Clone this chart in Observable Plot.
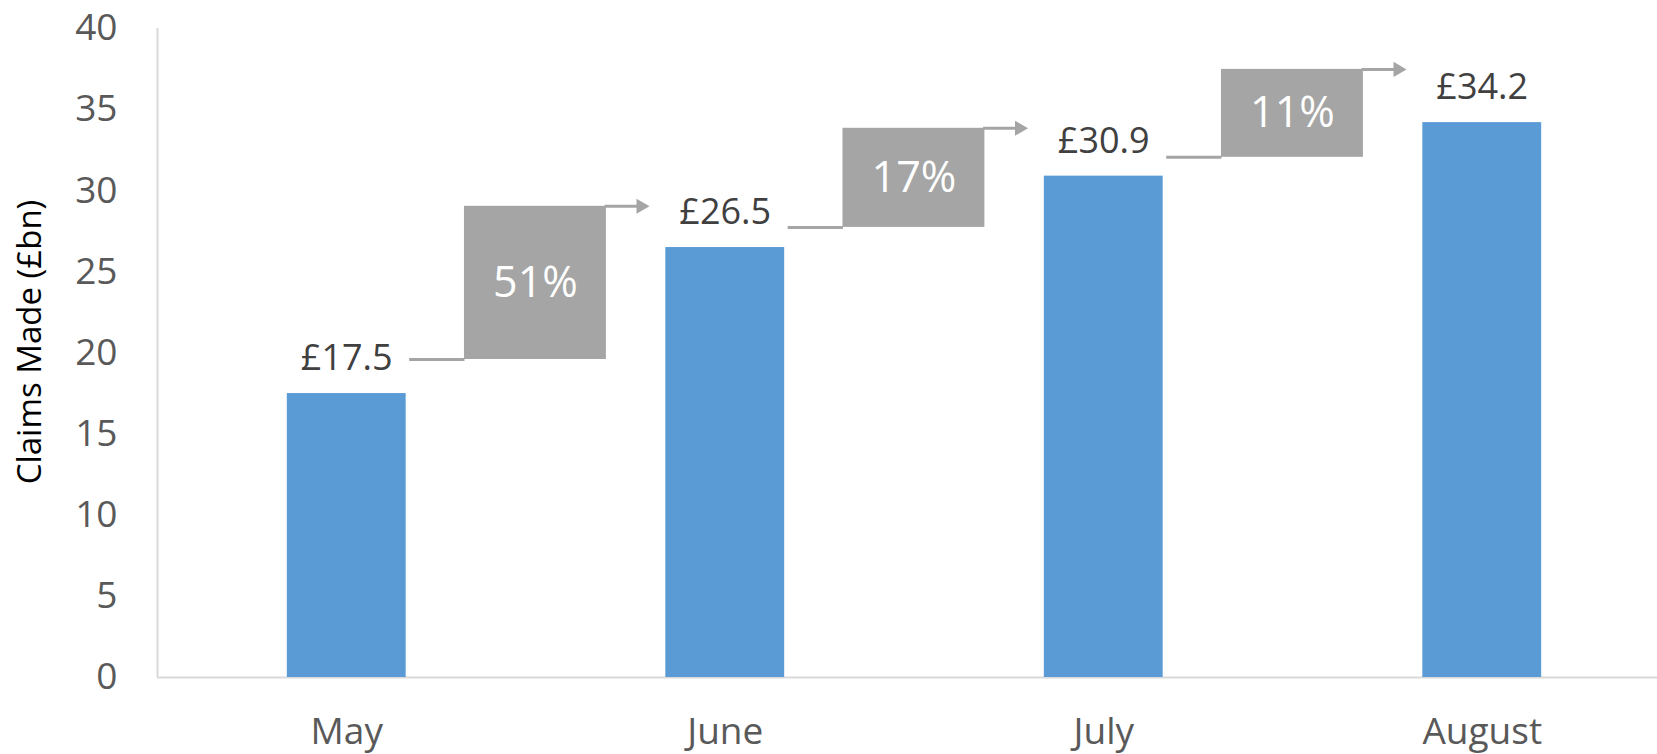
<!DOCTYPE html>
<html>
<head>
<meta charset="utf-8">
<script src="https://cdn.jsdelivr.net/npm/d3@7"></script>
<script src="https://cdn.jsdelivr.net/npm/@observablehq/plot@0.6"></script>
<style>
  html, body { margin: 0; padding: 0; background: #fff; }
  #chart { width: 1657px; height: 754px; overflow: hidden; }
</style>
</head>
<body>
<div id="chart"></div>
<script>
// ---- data ----
const months = ["May", "June", "July", "August"];
const claims = [17.5, 26.5, 30.9, 34.2];
const valueLabels = ["£17.5", "£26.5", "£30.9", "£34.2"];
const growthLabels = ["51%", "17%", "11%"];
const stepLow = [19.6, 27.74, 32.06];   // level of connector leaving each bar label (£bn)
const stepHigh = [29.04, 33.85, 37.48]; // level of arrow reaching next bar label (£bn)
const yTicks = [0, 5, 10, 15, 20, 25, 30, 35, 40];
const yTitle = "Claims Made (£bn)";

// ---- tables ----
const bars = months.map((m, i) => ({i, month: m, value: claims[i], label: valueLabels[i]}));
const steps = growthLabels.map((g, i) => ({i, label: g, low: stepLow[i], high: stepHigh[i]}));

const BAR = 0.157, LINE0 = 0.165, BOX0 = 0.311, BOX1 = 0.686, TIP = 0.80;
const grey = "#a5a5a5";

const chart = Plot.plot({
  width: 1657,
  height: 754,
  marginLeft: 157,
  marginRight: 0,
  marginTop: 28,
  marginBottom: 77,
  style: {fontFamily: "'Open Sans', sans-serif", background: "#fff", overflow: "visible"},
  x: {type: "linear", domain: [-0.5, 3.5], range: [157, 1671]},
  y: {domain: [0, 40], range: [677, 28]},
  marks: [
    Plot.ruleY([0], {stroke: "#d9d9d9", strokeWidth: 2}),
    Plot.ruleX([-0.5], {y1: 0, y2: 40, stroke: "#d9d9d9", strokeWidth: 2}),
    Plot.axisY({ticks: yTicks, tickSize: 0, tickPadding: 40, fontSize: 37, fill: "#595959", label: null}),
    Plot.axisX({ticks: [0, 1, 2, 3], tickFormat: i => months[i], tickSize: 0, tickPadding: 40, fontSize: 37, fill: "#595959", label: null}),
    Plot.text([yTitle], {frameAnchor: "left", textAnchor: "middle", dx: -127, dy: -11, rotate: -90, fontSize: 33, fill: "#000"}),
    Plot.rect(bars, {x1: d => d.i - BAR, x2: d => d.i + BAR, y1: 0, y2: "value", fill: "#5b9bd5"}),
    Plot.text(bars, {x: "i", y: "value", text: "label", dy: -35, fontSize: 36, fill: "#404040"}),
    // connector from label to box
    Plot.link(steps, {x1: d => d.i + LINE0, x2: d => d.i + BOX0, y1: "low", y2: "low", stroke: grey, strokeWidth: 3}),
    // growth box
    Plot.rect(steps, {x1: d => d.i + BOX0, x2: d => d.i + BOX1, y1: "low", y2: "high", fill: grey}),
    // arrow shaft
    Plot.link(steps, {x1: d => d.i + BOX1 - 0.005, x2: d => d.i + TIP - 0.02, y1: "high", y2: "high", stroke: grey, strokeWidth: 3}),
    // arrow head
    Plot.dot(steps, {x: d => d.i + TIP, y: "high", symbol: "triangle", rotate: 90, r: 5.6, dx: -8.7, fill: grey, stroke: "none"}),
    Plot.text(steps, {x: d => d.i + (BOX0 + BOX1) / 2, y: d => (d.low + d.high) / 2, text: "label", fontSize: 43, fill: "#fff"})
  ]
});
document.getElementById("chart").appendChild(chart);
</script>
</body>
</html>
